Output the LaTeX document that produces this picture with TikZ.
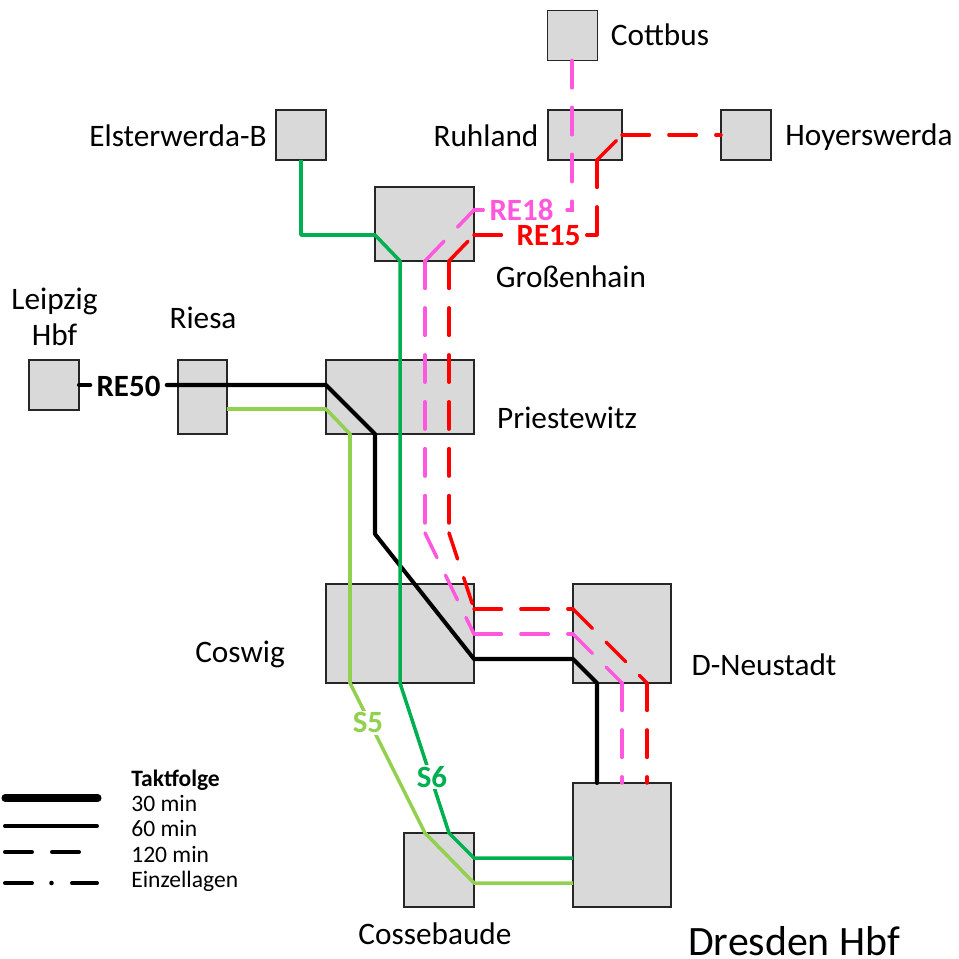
\documentclass[tikz,border=0pt]{standalone}
\usepackage{fontspec}
\setmainfont{Carlito}
\usepackage{xcolor}
\usepackage{tikz}
\usetikzlibrary{positioning}
\definecolor{rebox}{HTML}{D9D9D9}
\definecolor{repink}{HTML}{FF57DE}
\definecolor{rered}{HTML}{FF0000}
\definecolor{sdark}{HTML}{00B050}
\definecolor{slight}{HTML}{92D050}
\tikzset{
  station/.style={draw=black!85, fill=rebox, line width=0.7pt, inner sep=0pt, outer sep=0pt},
  place/.style={font=\fontsize{17.8}{20.8}\selectfont, inner sep=0pt, align=center},
  linelabel/.style={font=\fontsize{17.6}{20}\selectfont\bfseries, fill=white, inner xsep=3.4pt, inner ysep=0pt},
  legendtext/.style={font=\fontsize{13.4}{15}\selectfont, anchor=base west, inner sep=0pt},
  taktline/.style={line width=2.3pt, line cap=round, line join=round},
  tworh/.style={line width=2pt, line cap=round, line join=miter, dash pattern=on 15.6pt off 11.1pt},
  solidline/.style={line width=2pt, line join=round}
}
\begin{document}
\begin{tikzpicture}[x=0.02cm, y=-0.02cm]
    \useasboundingbox (0,0) rectangle (958,959);

    % Stations
    \node[station, minimum width=1cm, minimum height=1cm] (cottbus) at (572.5,35.5) {};
    \node[station, minimum width=1.48cm, minimum height=1cm] (ruhland) at (585,135) {};
    \node[station, minimum width=1cm, minimum height=1cm] (hoyerswerda) at (746,135) {};
    \node[station, minimum width=1cm, minimum height=1cm] (elsterwerda) at (301,135) {};
    \node[station, minimum width=1.98cm, minimum height=1.48cm] (grossenhain) at (424.5,224) {};
    \node[station, minimum width=1cm, minimum height=1cm] (leipzig) at (54,385) {};
    \node[station, minimum width=0.98cm, minimum height=1.48cm] (riesa) at (202.5,397) {};
    \node[station, minimum width=2.96cm, minimum height=1.48cm] (priestewitz) at (400,397) {};
    \node[station, minimum width=2.96cm, minimum height=1.98cm] (coswig) at (400,633.5) {};
    \node[station, minimum width=1.96cm, minimum height=1.98cm] (neustadt) at (622,633.5) {};
    \node[station, minimum width=1.96cm, minimum height=2.48cm] (hbf) at (622,845) {};
    \node[station, minimum width=1.4cm, minimum height=1.48cm] (cossebaude) at (439,870) {};

    % Station names
    \node[place] (cottbustext) at (660,35) {Cottbus};
    \node[place] (ruhlandtext) at (486,136) {Ruhland};
    \node[place] (hoyerswerdatext) at (869,137) {Hoyerswerda};
    \node[place] (elsterwerdatext) at (178,136) {Elsterwerda-B};
    \node[place] (grossenhaintext) at (571,277) {Großenhain};
    \node[place] (leipzigtext) at (54.5,317) {Leipzig\\Hbf};
    \node[place] (riesatext) at (203,318) {Riesa};
    \node[place] (priestewitztext) at (567,418) {Priestewitz};
    \node[place] (coswigtext) at (240,654) {Coswig};
    \node[place] (neustadttext) at (764,665) {D-Neustadt};
    \node[place] (cossebaudetext) at (435,934) {Cossebaude};
    \node[place, font=\fontsize{23.8}{27}\selectfont] (hbftext) at (794,941) {Dresden Hbf};

    % Line labels
    \node[linelabel, text=repink] (re18) at (521.5,210) {RE18};
    \node[linelabel, text=rered] (re15) at (548.5,236) {RE15};
    \node[linelabel, text=black] (re50) at (128.5,386) {RE50};

    % Corner points
    \coordinate (pinka) at (572,210);
    \coordinate (pinkb) at (567,210);
    \coordinate (pinkc) at (474,210);
    \coordinate (pinkd) at (425,261);
    \coordinate (pinke) at (425,533);
    \coordinate (pinkf) at (474,634);
    \coordinate (pinkg) at (573,634);
    \coordinate (pinkh) at (622,683);
    \coordinate (reda) at (622,135);
    \coordinate (redb) at (597,160);
    \coordinate (redc) at (597,235);
    \coordinate (redd) at (474,235);
    \coordinate (rede) at (449,261);
    \coordinate (redf) at (449,533);
    \coordinate (redg) at (474,609);
    \coordinate (redh) at (573,609);
    \coordinate (redi) at (647,683);
    \coordinate (blacka) at (326,385);
    \coordinate (blackb) at (375,434);
    \coordinate (blackc) at (375,534);
    \coordinate (blackd) at (474,659);
    \coordinate (blacke) at (573,659);
    \coordinate (blackf) at (597,683);
    \coordinate (darka) at (301,235);
    \coordinate (darkb) at (375,235);
    \coordinate (darkc) at (400,261);
    \coordinate (darkd) at (400,683);
    \coordinate (darke) at (449,833);
    \coordinate (darkf) at (474,858);
    \coordinate (lighta) at (326,409);
    \coordinate (lightb) at (350,434);
    \coordinate (lightc) at (350,683);
    \coordinate (lightd) at (425,833);
    \coordinate (lighte) at (474,883);

    % Regional lines
    \draw[tworh, repink] (cottbus.south -| pinka) -- (pinka) -- (pinkb);
    \draw[solidline, repink, line cap=round] (pinkc) -- (re18.west);
    \draw[tworh, repink] (pinkd) -- (pinkc);
    \draw[tworh, repink] (pinkd) -- (pinke);
    \draw[tworh, repink] (pinke) -- (pinkf);
    \draw[tworh, repink] (pinkf) -- (pinkg);
    \draw[tworh, repink] (pinkg) -- (pinkh);
    \draw[tworh, repink] (pinkh) -- (hbf.north -| pinkh);

    \draw[tworh, rered] (reda) -- (hoyerswerda.west |- reda);
    \draw[tworh, rered] (redb) -- (reda);
    \draw[tworh, rered] (redb) -- (redc);
    \draw[solidline, rered, line cap=round] (redc) -- (re15.east |- redc);
    \draw[tworh, rered] (redd) -- (re15.west |- redd);
    \draw[tworh, rered] (rede) -- (redd);
    \draw[tworh, rered] (rede) -- (redf);
    \draw[tworh, rered] (redf) -- (redg);
    \draw[tworh, rered] (redg) -- (redh);
    \draw[tworh, rered] (redh) -- (redi);
    \draw[tworh, rered] (redi) -- (hbf.north -| redi);

    \draw[taktline] (leipzig.east) -- (re50.west |- leipzig.east);
    \draw[taktline] (re50.east |- blacka) -- (blacka) -- (blackb) -- (blackc) -- (blackd) -- (blacke) -- (blackf) -- (hbf.north -| blackf);

    % S-Bahn lines
    \draw[solidline, sdark] (elsterwerda.south) -- (darka) -- (darkb) -- (darkc) -- (darkd) -- (darke) -- (darkf) -- (hbf.west |- darkf);
    \draw[solidline, slight] (riesa.east |- lighta) -- (lighta) -- (lightb) -- (lightc) -- (lightd) -- (lighte) -- (hbf.west |- lighte);
    \node[linelabel, text=sdark, inner xsep=1pt, inner ysep=1pt] (s6) at (432,777) {S6};
    \node[linelabel, text=slight, inner xsep=1pt, inner ysep=1pt] (s5) at (368,722.5) {S5};

    % Legend
    \node[legendtext, font=\fontsize{13.4}{15}\selectfont\bfseries] (takt) at (131,786) {Taktfolge};
    \node[legendtext] (min30) at (131,811) {30 min};
    \node[legendtext] (min60) at (131,836) {60 min};
    \node[legendtext] (min120) at (131,862) {120 min};
    \node[legendtext] (einzel) at (131,887) {Einzellagen};
    \coordinate (lega) at (5,798);
    \coordinate (legb) at (98,798);
    \coordinate (legc) at (5,826);
    \coordinate (legd) at (97,826);
    \coordinate (lege) at (5,852);
    \coordinate (legf) at (32,852);
    \coordinate (legg) at (52,852);
    \coordinate (legh) at (79,852);
    \coordinate (legi) at (5,883);
    \coordinate (legj) at (32,883);
    \coordinate (legk) at (51.5,883);
    \coordinate (legl) at (72,883);
    \coordinate (legm) at (97,883);
    \draw[line width=4pt, line cap=round] (lega) -- (legb);
    \draw[taktline] (legc) -- (legd);
    \draw[taktline] (lege) -- (legf);
    \draw[taktline] (legg) -- (legh);
    \draw[taktline] (legi) -- (legj);
    \fill (legk) circle (1.3pt);
    \draw[taktline] (legl) -- (legm);
  \end{tikzpicture}
\end{document}
